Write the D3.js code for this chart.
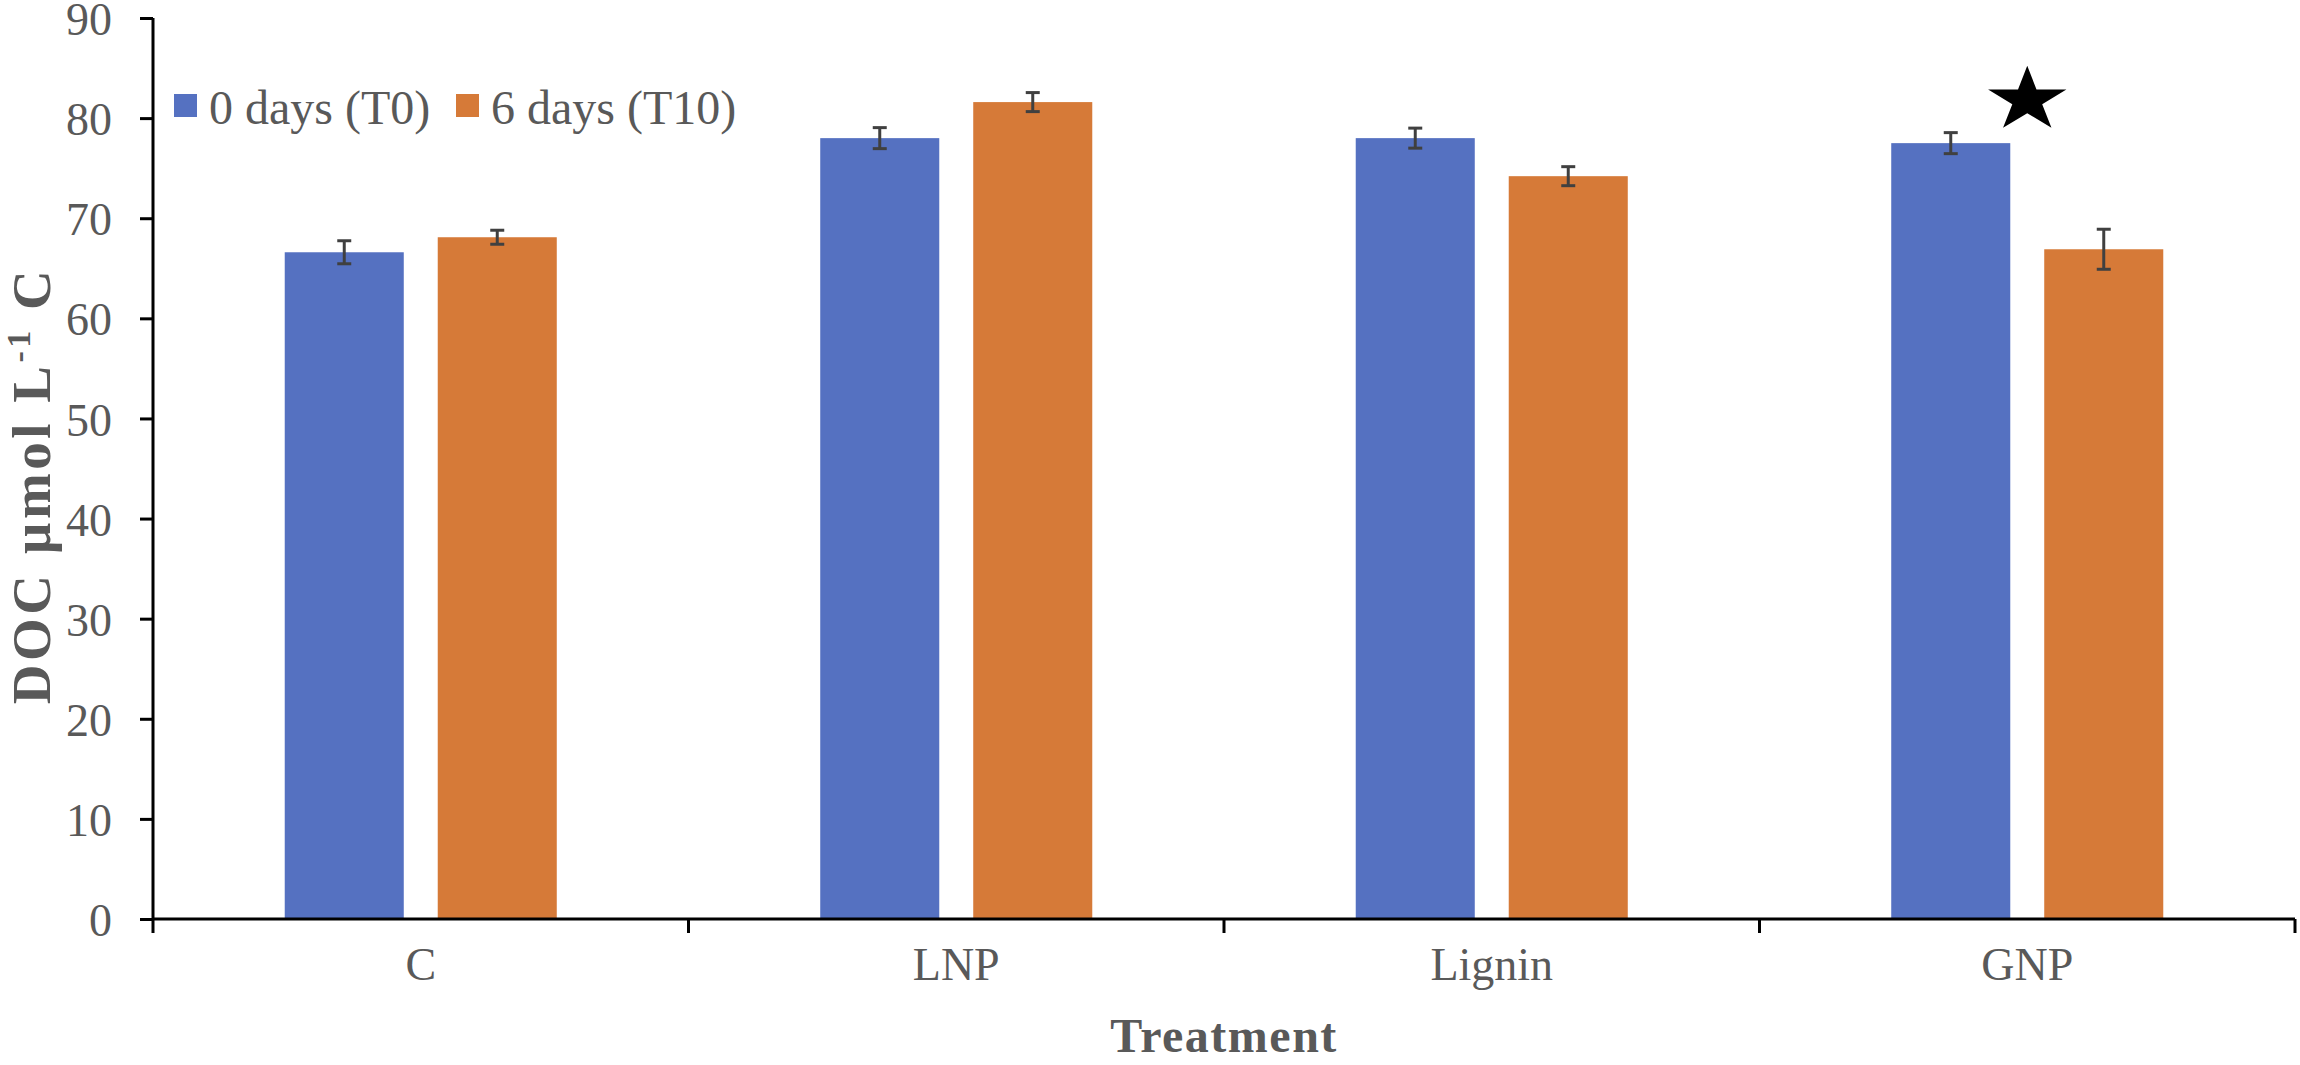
<!DOCTYPE html>
<html>
<head>
<meta charset="utf-8">
<script src="https://cdn.jsdelivr.net/npm/d3@7"></script>
<style>
  html, body { margin: 0; padding: 0; background: #fff; }
  text { font-family: "Liberation Serif", "Times New Roman", serif; fill: #595959; }
</style>
</head>
<body>
<div id="app"></div>
<script>
// datos
const categories = ['C', 'LNP', 'Lignin', 'GNP']
const seriesNames = ['0 days (T0)', '6 days (T10)']
const seriesColors = ['#5571c1', '#d67a38']
const t0Values = [66.6, 78.0, 78.0, 77.5]
const t0Errors = [1.15, 1.05, 1.0, 1.05]
const t10Values = [68.1, 81.6, 74.2, 66.9]
const t10Errors = [0.7, 0.95, 0.95, 2.0]
const yTicks = [0, 10, 20, 30, 40, 50, 60, 70, 80, 90]
const starCategory = 'GNP'
const starValue = 81.8

const w = 2300
const h = 1065
const m = { top: 18, right: 5, bottom: 146, left: 153 }

const dataset = []
categories.forEach((cat, i) => {
  dataset.push({ cat, serie: seriesNames[0], value: t0Values[i], err: t0Errors[i] })
  dataset.push({ cat, serie: seriesNames[1], value: t10Values[i], err: t10Errors[i] })
})

const svg = d3.select('#app')
  .append('svg')
  .attr('width', w)
  .attr('height', h)

// escalas
const x0 = d3.scaleBand()
  .domain(categories)
  .range([m.left, w - m.right])
  .padding(0)

const x1 = d3.scaleBand()
  .domain(seriesNames)
  .range([0, x0.bandwidth()])
  .paddingInner(0.222)
  .paddingOuter(0.861)

const y = d3.scaleLinear()
  .domain([0, 90])
  .range([h - m.bottom, m.top])

const color = d3.scaleOrdinal().domain(seriesNames).range(seriesColors)

// barras
svg.append('g')
  .selectAll('rect')
  .data(dataset)
  .enter()
  .append('rect')
  .attr('x', d => x0(d.cat) + x1(d.serie))
  .attr('y', d => y(d.value))
  .attr('width', x1.bandwidth())
  .attr('height', d => y(0) - y(d.value))
  .attr('fill', d => color(d.serie))

// barras de error
const errG = svg.append('g')
  .attr('stroke', '#404040')
  .attr('stroke-width', 3)
  .attr('fill', 'none')

const err = errG.selectAll('g')
  .data(dataset)
  .enter()
  .append('g')
  .attr('transform', d => `translate(${x0(d.cat) + x1(d.serie) + x1.bandwidth() / 2}, 0)`)

err.append('line')
  .attr('y1', d => y(d.value + d.err))
  .attr('y2', d => y(d.value - d.err))
err.append('line')
  .attr('x1', -7).attr('x2', 7)
  .attr('y1', d => y(d.value + d.err))
  .attr('y2', d => y(d.value + d.err))
err.append('line')
  .attr('x1', -7).attr('x2', 7)
  .attr('y1', d => y(d.value - d.err))
  .attr('y2', d => y(d.value - d.err))

// ejes
const yAxis = d3.axisLeft(y)
  .tickValues(yTicks)
  .tickSize(13)
  .tickPadding(28)
  .tickFormat(d3.format('d'))

const yG = svg.append('g')
  .attr('transform', `translate(${m.left}, 0)`)
  .call(yAxis)
yG.select('.domain').attr('stroke', '#000').attr('stroke-width', 3)
  .attr('d', `M0,${y(90)}V${y(0) + 14}`)
yG.selectAll('.tick line').attr('stroke', '#000').attr('stroke-width', 3)
yG.selectAll('.tick text')
  .attr('font-size', 46)
  .attr('font-family', '"Liberation Serif", serif')
  .attr('fill', '#595959')
  .attr('dy', '0.36em')

const xAxis = d3.axisBottom(x0).tickSize(0).tickPadding(28)
const xG = svg.append('g')
  .attr('transform', `translate(0, ${y(0)})`)
  .call(xAxis)
xG.select('.domain').attr('stroke', '#000').attr('stroke-width', 3)
  .attr('d', `M${m.left},0H${w - m.right}`)
xG.selectAll('.tick text')
  .attr('font-size', 46)
  .attr('font-family', '"Liberation Serif", serif')
  .attr('fill', '#595959')

// marcas entre categorías
const boundaries = categories.map(c => x0(c)).concat([x0.range()[1]]).slice(1)
xG.selectAll('.bound')
  .data(boundaries)
  .enter()
  .append('line')
  .attr('class', 'bound')
  .attr('x1', d => d).attr('x2', d => d)
  .attr('y1', 0).attr('y2', 14)
  .attr('stroke', '#000')
  .attr('stroke-width', 3)

// títulos de ejes
svg.append('text')
  .attr('x', x0.range()[0] + (x0.range()[1] - x0.range()[0]) / 2)
  .attr('y', 1052)
  .attr('text-anchor', 'middle')
  .attr('font-size', 48)
  .attr('font-weight', 'bold')
  .attr('letter-spacing', 1.5)
  .text('Treatment')

const yTitle = svg.append('text')
  .attr('transform', `translate(50, ${(y(0) + y(90)) / 2 + 17}) rotate(-90)`)
  .attr('text-anchor', 'middle')
  .attr('font-size', 55)
  .attr('font-weight', 'bold')
  .attr('letter-spacing', 3.5)
yTitle.append('tspan').text('DOC µmol L')
yTitle.append('tspan').attr('dy', -20).attr('font-size', 34).text('-1')
yTitle.append('tspan').attr('dy', 20).text(' C')

// estrella de significancia
svg.append('path')
  .attr('d', d3.symbol(d3.symbolStar, 1320)())
  .attr('fill', '#000')
  .attr('transform', `translate(${x0(starCategory) + x0.bandwidth() / 2}, ${y(starValue)}) scale(1.2, 1)`)

// leyenda
const legendX = [174, 456]
const legend = svg.append('g')
  .selectAll('g')
  .data(seriesNames)
  .enter()
  .append('g')
  .attr('transform', (d, i) => `translate(${legendX[i]}, 94)`)

legend.append('rect')
  .attr('width', 23)
  .attr('height', 23)
  .attr('fill', d => color(d))

legend.append('text')
  .attr('x', 35)
  .attr('y', 30)
  .attr('font-size', 48)
  .text(d => d)
</script>
</body>
</html>
